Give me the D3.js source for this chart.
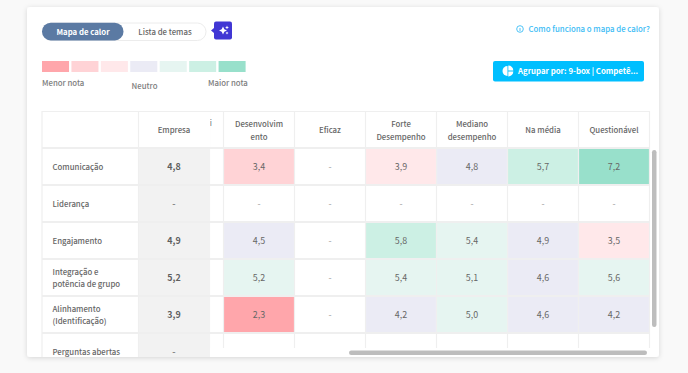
<!DOCTYPE html>
<html>
<head>
<meta charset="utf-8">
<script src="https://cdn.jsdelivr.net/npm/d3@7"></script>
<style>
  html, body { margin: 0; padding: 0; background: #f9f9f9; overflow: hidden; }
  svg { display: block; }
  text { font-family: "Noto Sans CJK SC", "Noto Sans", sans-serif; }
</style>
</head>
<body>
<svg id="chart" width="688" height="373"></svg>
<script>
// values
const topics = [["Comunicação"], ["Liderança"], ["Engajamento"], ["Integração e", "potência de grupo"], ["Alinhamento", "(Identificação)"], ["Perguntas abertas"]];
const groups = [["Desenvolvim", "ento"], ["Eficaz"], ["Forte", "Desempenho"], ["Mediano", "desempenho"], ["Na média"], ["Questionável"]];
const empresa = [4.8, null, 4.9, 5.2, 3.9, null];
const desenvolvimento = [3.4, null, 4.5, 5.2, 2.3, null];
const eficaz = [null, null, null, null, null, null];
const forte = [3.9, null, 5.8, 5.4, 4.2, null];
const mediano = [4.8, null, 5.4, 5.1, 5.0, null];
const naMedia = [5.7, null, 4.9, 4.6, 4.6, null];
const questionavel = [7.2, null, 3.5, 5.6, 4.2, null];
const series = [desenvolvimento, eficaz, forte, mediano, naMedia, questionavel];

const legendColors = ["#ffa6ab", "#ffd3d6", "#ffe8ea", "#ebebf5", "#e6f5f1", "#ccf0e4", "#98e0cb"];
const breaks = [3, 3.5, 4, 5, 5.7, 6.5];
const legendLabels = [
  {t: "Menor nota", x: 42, y: 86},
  {t: "Neutro", x: 131.5, y: 89},
  {t: "Maior nota", x: 208, y: 86}
];

const svg = d3.select("#chart");
const fill = d3.scaleThreshold().domain(breaks).range(legendColors);
const fmt = v => v == null ? "-" : d3.format(".1f")(v).replace(".", ",");

const grid = "#efefef";
const ink = "#666";
const small = 7.8;
const num = 8.9;

const defs = svg.append("defs");
const shadow = defs.append("filter").attr("id", "shadow")
  .attr("x", "-5%").attr("y", "-5%").attr("width", "110%").attr("height", "110%");
shadow.append("feDropShadow").attr("dx", 0).attr("dy", 1).attr("stdDeviation", 2.5)
  .attr("flood-color", "#000").attr("flood-opacity", 0.14);
defs.append("clipPath").attr("id", "scrollClip").append("rect")
  .attr("x", 210).attr("y", 105).attr("width", 441).attr("height", 243);
defs.append("clipPath").attr("id", "cardClip").append("rect")
  .attr("x", 27).attr("y", 7).attr("width", 632).attr("height", 350);

// card
svg.append("rect").attr("x", 27).attr("y", 7).attr("width", 632).attr("height", 350)
  .attr("rx", 3).attr("fill", "#fff").attr("filter", "url(#shadow)");

// scales
const x = d3.scaleBand().domain(d3.range(groups.length)).range([224, 650]);
const y = d3.scaleBand().domain(d3.range(topics.length)).range([148, 148 + 37 * topics.length]);

function multiline(sel, lines, cx, cy, anchor) {
  const t = sel.append("text").attr("text-anchor", anchor).attr("font-size", small)
    .attr("font-weight", 500).attr("fill", ink);
  lines.forEach((l, i) => {
    t.append("tspan").attr("x", cx)
      .attr("y", cy + 3 + (i - (lines.length - 1) / 2) * 12.5)
      .text(l);
  });
  return t;
}

// scrolling part of the table
const scroll = svg.append("g").attr("clip-path", "url(#scrollClip)");
scroll.append("text").attr("x", 209.8).attr("y", 126).attr("font-size", small).attr("fill", ink).text("i");

groups.forEach((g, c) => {
  multiline(scroll, g, x(c) + x.bandwidth() / 2 - 0.5, 130.3, "middle");
  topics.forEach((_, r) => {
    const v = series[c][r];
    scroll.append("rect")
      .attr("x", x(c)).attr("y", y(r) + 0.5)
      .attr("width", x.bandwidth() - 1).attr("height", y.bandwidth() - 1.5)
      .attr("fill", v == null ? "#fff" : fill(v));
    if (r < topics.length - 1) {
      scroll.append("text")
        .attr("x", x(c) + x.bandwidth() / 2 - 0.5).attr("y", y(r) + y.bandwidth() / 2 + 3.4)
        .attr("text-anchor", "middle").attr("font-size", num)
        .attr("fill", v == null ? "#999" : ink)
        .text(fmt(v));
    }
  });
});

// grid of the scrolling part
const gridLines = scroll.append("g").attr("stroke", grid).attr("stroke-width", 1.2);
[210].concat(x.domain().map(x), [650]).forEach(px => {
  gridLines.append("line").attr("x1", px - 0.5).attr("x2", px - 0.5).attr("y1", 111).attr("y2", 348);
});
gridLines.append("line").attr("x1", 210).attr("x2", 650).attr("y1", 111.5).attr("y2", 111.5);
y.domain().forEach(r => {
  gridLines.append("line").attr("x1", 210).attr("x2", 650)
    .attr("y1", y(r)).attr("y2", y(r)).attr("stroke-width", 1.8);
});

// fixed columns
const fixed = svg.append("g").attr("clip-path", "url(#cardClip)");
fixed.append("rect").attr("x", 138.5).attr("y", 148).attr("width", 71.5).attr("height", 222).attr("fill", "#f2f2f2");
fixed.append("text").attr("x", 174).attr("y", 133).attr("text-anchor", "middle")
  .attr("font-size", small).attr("font-weight", 500).attr("fill", ink).text("Empresa");

topics.forEach((t, r) => {
  const cy = y(r) + y.bandwidth() / 2 + 0.4;
  multiline(fixed, t, 52.5, r === 5 ? 351.5 : cy, "start");
  fixed.append("text").attr("x", 174).attr("y", r === 5 ? 355 : cy + 3.2)
    .attr("text-anchor", "middle").attr("font-size", num).attr("font-weight", 700)
    .attr("fill", empresa[r] == null ? "#888" : "#5f5f5f")
    .text(fmt(empresa[r]));
});

const fixedLines = fixed.append("g").attr("stroke", grid).attr("stroke-width", 1.2);
[42, 138.5].forEach(px => {
  fixedLines.append("line").attr("x1", px).attr("x2", px).attr("y1", 111).attr("y2", 357);
});
fixedLines.append("line").attr("x1", 42).attr("x2", 210).attr("y1", 111.5).attr("y2", 111.5);
y.domain().forEach(r => {
  fixedLines.append("line").attr("x1", 42).attr("x2", 210)
    .attr("y1", y(r)).attr("y2", y(r)).attr("stroke-width", 1.8);
});

// scrollbars
svg.append("rect").attr("x", 349).attr("y", 350.5).attr("width", 298).attr("height", 4.5).attr("rx", 2.2).attr("fill", "#bdbdbd");
svg.append("rect").attr("x", 652).attr("y", 150).attr("width", 4.5).attr("height", 177).attr("rx", 2.2).attr("fill", "#bdbdbd");

// toggle
svg.append("rect").attr("x", 42.5).attr("y", 23).attr("width", 163.5).attr("height", 17.5).attr("rx", 8.7)
  .attr("fill", "#fff").attr("stroke", "#ececec");
svg.append("rect").attr("x", 42).attr("y", 22.8).attr("width", 81.5).attr("height", 17.6).attr("rx", 8.7).attr("fill", "#5b7aa3");
svg.append("text").attr("x", 83).attr("y", 34.8).attr("text-anchor", "middle").attr("font-size", small)
  .attr("font-weight", 700).attr("fill", "#fff").text("Mapa de calor");
svg.append("text").attr("x", 165).attr("y", 34.8).attr("text-anchor", "middle").attr("font-size", small)
  .attr("font-weight", 500).attr("fill", ink).text("Lista de temas");

// sparkle button
svg.append("rect").attr("x", 214).attr("y", 21.5).attr("width", 18).attr("height", 18).attr("rx", 2).attr("fill", "#4137d4");
svg.append("path").attr("d", "M214 28L211 30.5L214 33Z").attr("fill", "#4137d4");
svg.append("path").attr("fill", "#fff")
  .attr("d", "M223 26.5L224.3 29.2L227 30.5L224.3 31.8L223 34.5L221.7 31.8L219 30.5L221.7 29.2Z M227 25.5L227.6 26.9L229 27.5L227.6 28.1L227 29.5L226.4 28.1L225 27.5L226.4 26.9Z M227 31.5L227.5 32.5L228.5 33L227.5 33.5L227 34.5L226.5 33.5L225.5 33L226.5 32.5Z");

// legend
const legendX = d3.scaleBand().domain(d3.range(legendColors.length)).range([42, 248]);
svg.append("g").selectAll("rect").data(legendColors).join("rect")
  .attr("x", (d, i) => legendX(i)).attr("y", 61)
  .attr("width", legendX.bandwidth() - 2.4).attr("height", 11)
  .attr("fill", d => d);
svg.append("g").selectAll("text").data(legendLabels).join("text")
  .attr("x", d => d.x).attr("y", d => d.y)
  .attr("font-size", small).attr("font-weight", 500).attr("fill", "#7d7d7d")
  .text(d => d.t);

// help link
svg.append("circle").attr("cx", 520).attr("cy", 29).attr("r", 3.3)
  .attr("fill", "none").attr("stroke", "#3bbcf5").attr("stroke-width", 0.9);
svg.append("line").attr("x1", 520).attr("x2", 520).attr("y1", 28).attr("y2", 31)
  .attr("stroke", "#3bbcf5").attr("stroke-width", 0.9);
svg.append("text").attr("x", 528.5).attr("y", 31.8).attr("font-size", small).attr("font-weight", 500)
  .attr("fill", "#3bbcf5").text("Como funciona o mapa de calor?");

// group button
svg.append("rect").attr("x", 493).attr("y", 61).attr("width", 151).attr("height", 20.5).attr("rx", 2).attr("fill", "#00bfff");
const pie = svg.append("g").attr("fill", "#fff").attr("transform", "translate(507.5,71)");
const pieArc = d3.arc().innerRadius(0).outerRadius(5);
pie.append("path").attr("d", pieArc({startAngle: Math.PI, endAngle: Math.PI * 2}));
pie.append("path").attr("transform", "translate(0.8,-0.5)").attr("d", pieArc({startAngle: 0, endAngle: Math.PI / 2}));
pie.append("path").attr("transform", "translate(0.8,0.5)").attr("d", pieArc({startAngle: Math.PI / 2, endAngle: Math.PI}));
svg.append("text").attr("x", 518).attr("y", 74.4).attr("font-size", small).attr("font-weight", 700)
  .attr("fill", "#fff").text("Agrupar por: 9-box | Competê...");
</script>
</body>
</html>
